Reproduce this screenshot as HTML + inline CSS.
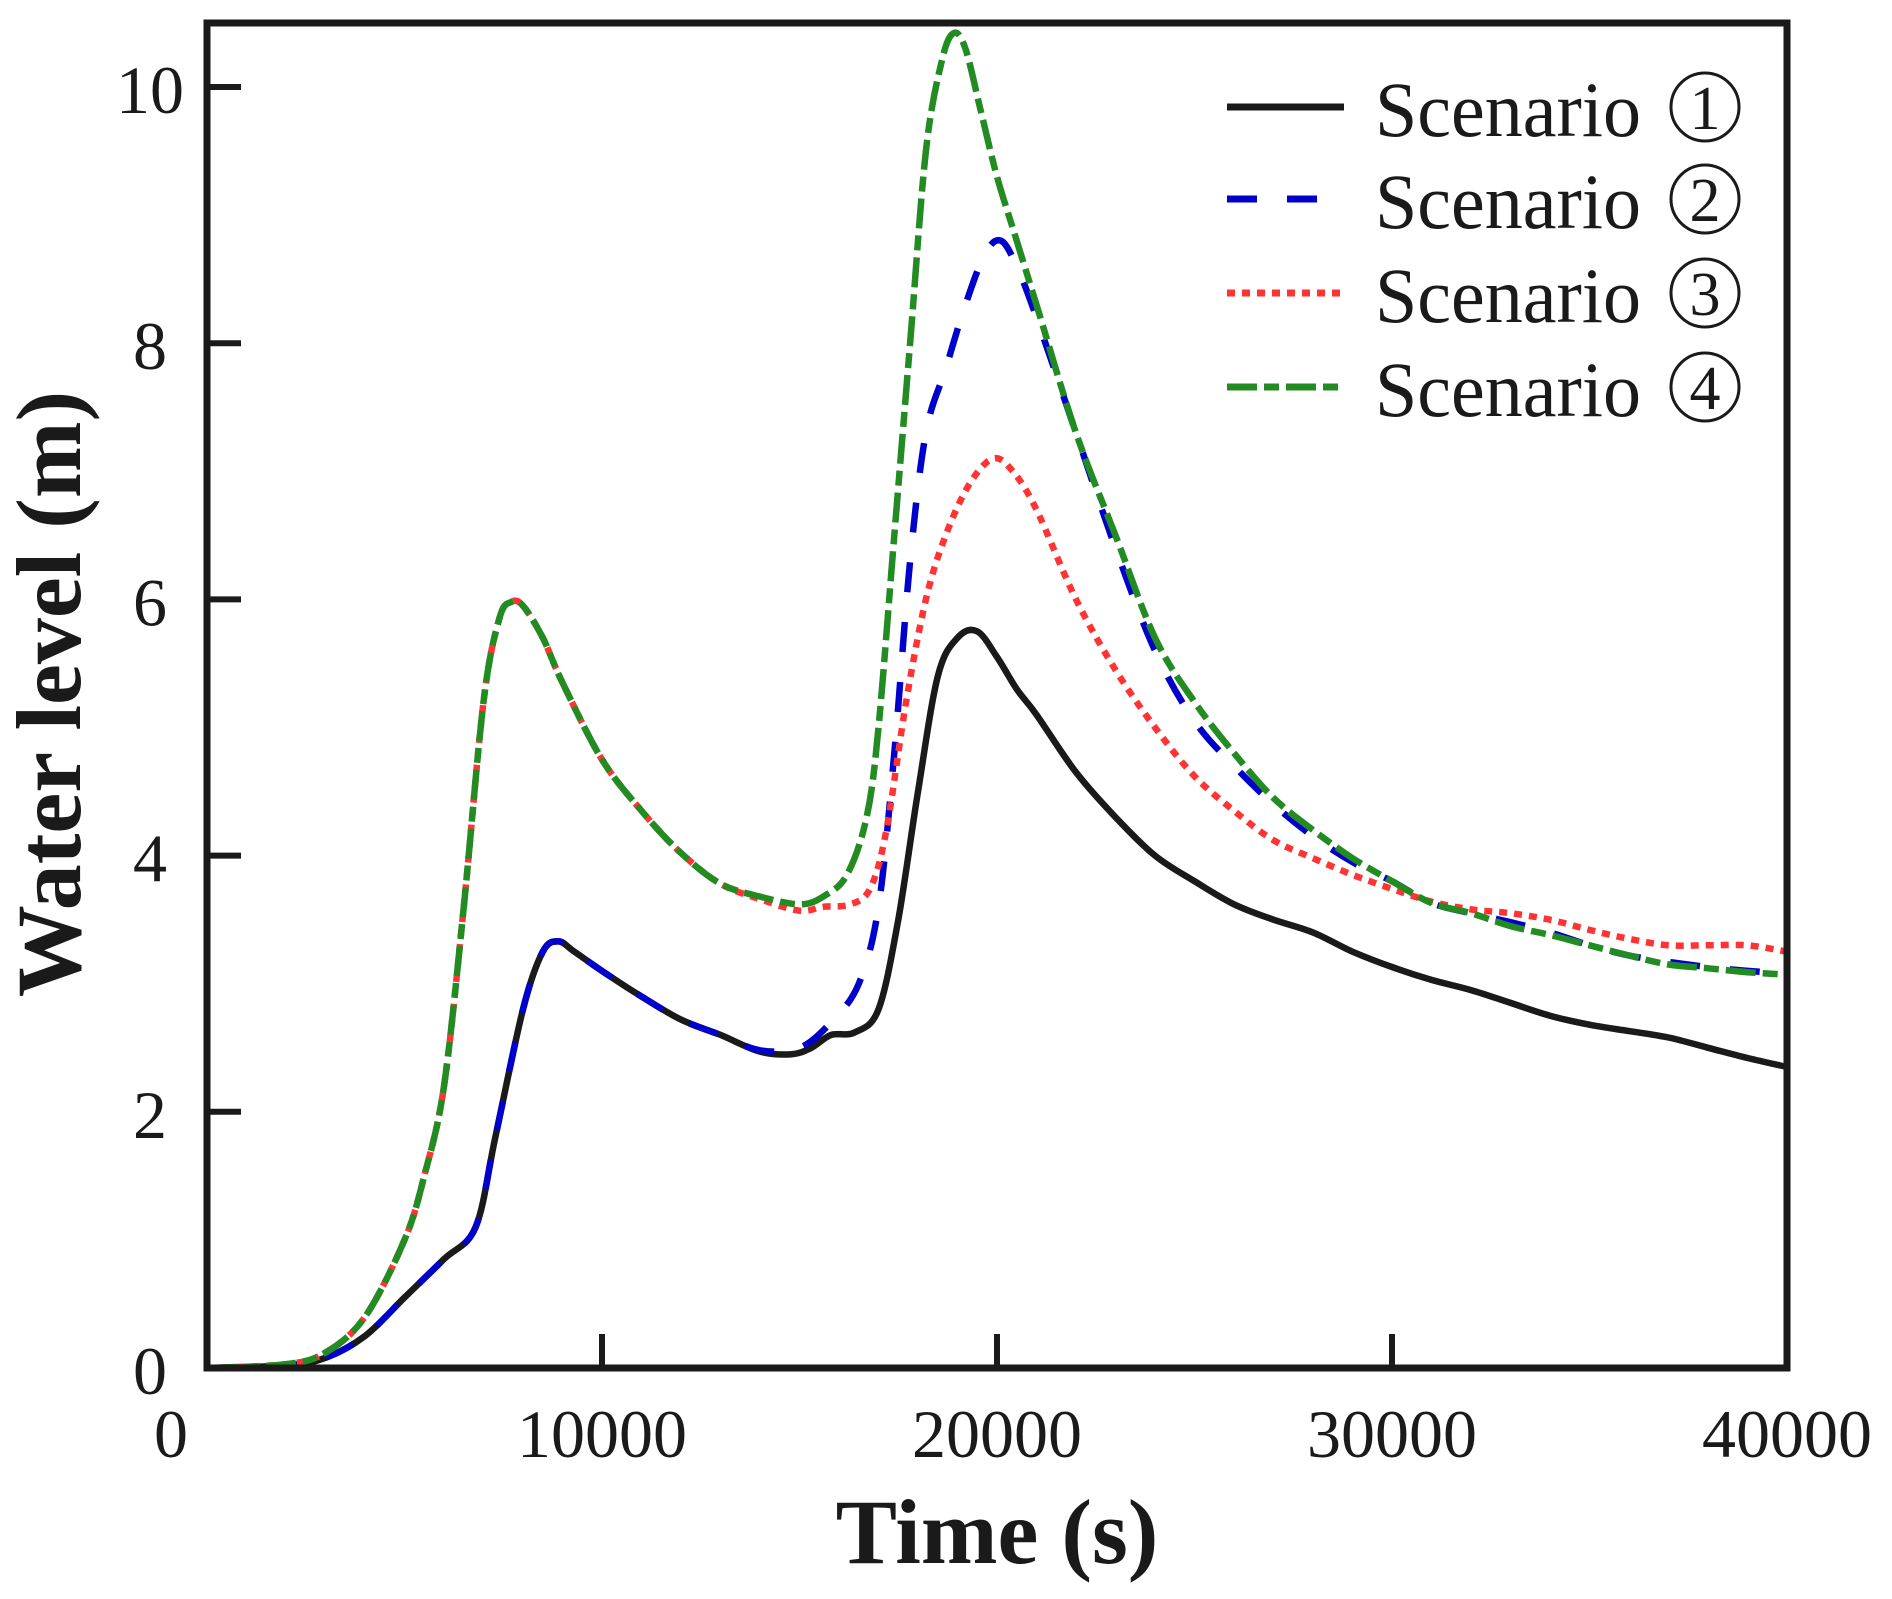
<!DOCTYPE html>
<html><head><meta charset="utf-8"><style>
html,body{margin:0;padding:0;background:#fff;}
svg{display:block;}
text{font-family:"Liberation Serif","DejaVu Serif",serif;fill:#1a1a1a;}
</style></head><body>
<svg id="chart" width="1892" height="1599" viewBox="0 0 1892 1599" xmlns="http://www.w3.org/2000/svg">
<g id="series"></g>
<rect x="207" y="23" width="1580" height="1345" fill="none" stroke="#1a1a1a" stroke-width="7"/>
<g id="ticks"></g>
<text x="997" y="1563" font-size="92" font-weight="bold" text-anchor="middle">Time (s)</text>
<text transform="translate(80,694) rotate(-90)" font-size="92" font-weight="bold" text-anchor="middle">Water level (m)</text>
<g id="legend"></g>
</svg>
<script>
const xTicks = [0, 10000, 20000, 30000, 40000];
const xTickLabels = ["0", "10000", "20000", "30000", "40000"];
const yTicks = [0, 2, 4, 6, 8, 10];
const yTickLabels = ["0", "2", "4", "6", "8", "10"];
const seriesNames = ["Scenario", "Scenario", "Scenario", "Scenario"];
const seriesMarks = ["1", "2", "3", "4"];

const t1 = [0,2000,3000,4000,5000,6000,6800,7300,8000,8500,8900,9300,10000,11000,12000,13000,14000,14800,15300,15800,16400,17000,17500,18000,18500,19000,19500,20000,20500,21000,22000,23000,24000,25000,26000,27000,28000,29000,30000,31000,32000,33000,34000,35000,36000,37000,38000,39000,40000];
const v1 = [0,0.02,0.08,0.25,0.55,0.85,1.1,1.8,2.8,3.25,3.33,3.25,3.1,2.9,2.72,2.6,2.47,2.45,2.5,2.6,2.62,2.8,3.5,4.5,5.4,5.7,5.75,5.55,5.3,5.1,4.65,4.3,4.0,3.8,3.62,3.5,3.4,3.25,3.13,3.03,2.95,2.85,2.75,2.68,2.63,2.58,2.5,2.42,2.35];

const t2 = [0,2000,3000,4000,5000,6000,6800,7300,8000,8500,8900,9300,10000,11000,12000,13000,14000,15000,15800,16500,17000,17400,17800,18200,18700,19200,19700,20100,20500,21000,22000,23000,24000,25000,26000,27000,28000,29000,30000,31000,32000,33000,34000,35000,36000,37000,38000,39000,40000];
const v2 = [0,0.02,0.08,0.25,0.55,0.85,1.1,1.8,2.8,3.25,3.33,3.25,3.1,2.9,2.72,2.6,2.48,2.5,2.7,3.0,3.6,4.8,6.3,7.3,7.8,8.3,8.7,8.8,8.6,8.2,7.3,6.4,5.6,5.05,4.7,4.4,4.15,3.95,3.8,3.63,3.55,3.48,3.4,3.3,3.22,3.17,3.13,3.1,3.08];

const t3 = [0,2000,3000,4000,5000,5500,6000,6500,7000,7400,7700,8000,8500,9000,10000,11000,12000,13000,14000,15000,15600,16300,16800,17200,17700,18200,18700,19300,19900,20400,21000,22000,23000,24000,25000,26000,27000,28000,29000,30000,31000,32000,33000,34000,35000,36000,37000,38000,39000,40000];
const v3 = [0,0.03,0.12,0.4,1.0,1.5,2.2,3.6,5.2,5.85,5.98,5.95,5.7,5.35,4.75,4.35,4.02,3.78,3.66,3.57,3.6,3.62,3.75,4.2,5.2,6.0,6.5,6.9,7.1,7.0,6.7,6.0,5.45,5.0,4.62,4.35,4.12,3.98,3.85,3.74,3.64,3.58,3.55,3.5,3.42,3.35,3.3,3.3,3.3,3.25];

const t4 = [0,2000,3000,4000,5000,5500,6000,6500,7000,7400,7700,8000,8500,9000,10000,11000,12000,13000,14000,15000,15600,16200,16700,17000,17400,17800,18200,18600,18900,19200,19600,20000,20500,21000,22000,23000,24000,25000,26000,27000,28000,29000,30000,31000,32000,33000,34000,35000,36000,37000,38000,39000,40000];
const v4 = [0,0.03,0.12,0.4,1.0,1.5,2.2,3.6,5.2,5.85,5.98,5.95,5.7,5.35,4.75,4.35,4.02,3.78,3.68,3.62,3.68,3.85,4.3,5.0,6.5,8.0,9.5,10.2,10.42,10.3,9.8,9.3,8.8,8.3,7.3,6.5,5.7,5.2,4.8,4.45,4.2,3.98,3.8,3.63,3.55,3.45,3.38,3.3,3.22,3.15,3.12,3.09,3.07];

const NS = "http://www.w3.org/2000/svg";
const X0 = 207, X1 = 1787, Y0 = 1368, YU = 128.1;
function xs(t){ return X0 + (t/40000)*(X1-X0); }
function ys(v){ return Y0 - v*YU; }
function mk(tag, attrs){ const e = document.createElementNS(NS, tag); for (const k in attrs) e.setAttribute(k, attrs[k]); return e; }

function pathFrom(ts, vs){
  const p = ts.map((t,i)=>[xs(t), ys(vs[i])]);
  let d = "M" + p[0][0].toFixed(1) + "," + p[0][1].toFixed(1);
  for (let i=0;i<p.length-1;i++){
    const a = p[Math.max(0,i-1)], b = p[i], c = p[i+1], e = p[Math.min(p.length-1,i+2)];
    const c1x = b[0] + (c[0]-a[0])/6, c1y = b[1] + (c[1]-a[1])/6;
    const c2x = c[0] - (e[0]-b[0])/6, c2y = c[1] - (e[1]-b[1])/6;
    d += " C" + c1x.toFixed(1)+","+c1y.toFixed(1)+" "+c2x.toFixed(1)+","+c2y.toFixed(1)+" "+c[0].toFixed(1)+","+c[1].toFixed(1);
  }
  return d;
}

const colors = ["#1a1a1a", "#0000cc", "#ff3333", "#228b22"];
const dashes = ["", "30 30", "8 7", "30 7 15 7"];
const ts = [t1, t2, t3, t4], vs = [v1, v2, v3, v4];
const sg = document.getElementById("series");
for (let i=0;i<4;i++){
  const el = mk("path", {d: pathFrom(ts[i], vs[i]), fill: "none", stroke: colors[i], "stroke-width": 6.5, "stroke-linejoin": "round"});
  if (dashes[i]) el.setAttribute("stroke-dasharray", dashes[i]);
  
  
  sg.appendChild(el);
}

const tg = document.getElementById("ticks");
xTicks.forEach((t,i)=>{
  if (i>0 && i<xTicks.length-1){
    const tk = mk("line", {x1: xs(t), x2: xs(t), y1: Y0, y2: Y0-34, stroke: "#1a1a1a", "stroke-width": 6});
    
    
    tg.appendChild(tk);
  }
  const lx = i===0 ? 171 : xs(t);
  const lb = mk("text", {x: lx, y: 1457, "font-size": 68, "text-anchor": "middle"});
  lb.textContent = xTickLabels[i];
  
  
  tg.appendChild(lb);
});
yTicks.forEach((v,i)=>{
  if (i>0){
    const tk = mk("line", {x1: X0, x2: X0+34, y1: ys(v), y2: ys(v), stroke: "#1a1a1a", "stroke-width": 6});
    
    
    tg.appendChild(tk);
  }
  const lb = mk("text", {x: 150, y: ys(v)+26, "font-size": 68, "text-anchor": "middle"});
  lb.textContent = yTickLabels[i];
  
  
  tg.appendChild(lb);
});

const lg = document.getElementById("legend");
const rows = [107, 199, 293, 387];
for (let i=0;i<4;i++){
  const g = mk("g", {});
  
  
  const ln = mk("line", {x1: 1227, x2: 1344, y1: rows[i], y2: rows[i], stroke: colors[i], "stroke-width": 7});
  if (dashes[i]) ln.setAttribute("stroke-dasharray", dashes[i]);
  
  
  g.appendChild(ln);
  const tx = mk("text", {x: 1375, y: rows[i]+29, "font-size": 78, textLength: 266, lengthAdjust: "spacingAndGlyphs"});
  tx.textContent = seriesNames[i];
  
  
  g.appendChild(tx);
  const c = mk("circle", {cx: 1705, cy: rows[i], r: 34, fill: "none", stroke: "#1a1a1a", "stroke-width": 3});
  
  
  g.appendChild(c);
  const n = mk("text", {x: 1705, y: rows[i]+22, "font-size": 62, "text-anchor": "middle"});
  n.textContent = seriesMarks[i];
  
  
  g.appendChild(n);
  lg.appendChild(g);
}
</script>
</body></html>
